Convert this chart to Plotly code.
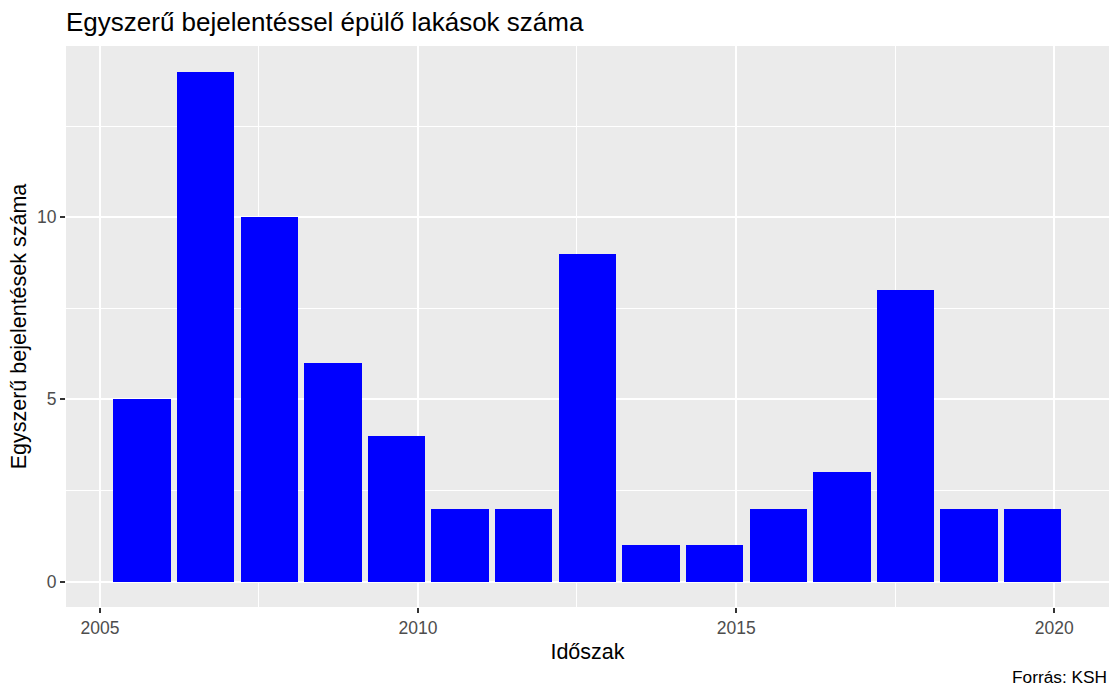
import plotly.graph_objects as go

# Simple-notification dwelling counts per period
periods = ["2005-08-30", "2006-08-30", "2007-08-30", "2008-08-30", "2009-08-30",
           "2010-08-30", "2011-08-30", "2012-08-30", "2013-08-30", "2014-08-30",
           "2015-08-30", "2016-08-30", "2017-08-30", "2018-08-30", "2019-08-30"]
counts = [5, 14, 10, 6, 4, 2, 2, 9, 1, 1, 2, 3, 8, 2, 2]

year_ms = 365.25 * 24 * 3600 * 1000
font_family = "Liberation Sans, Arial, sans-serif"

fig = go.Figure(
    go.Bar(
        x=periods,
        y=counts,
        width=[0.9 * year_ms] * len(periods),
        marker=dict(color="#0000FF", line=dict(width=0)),
        hoverinfo="x+y",
    )
)

axis_common = dict(
    showline=False,
    zeroline=False,
    gridcolor="#FFFFFF",
    gridwidth=2,
    ticks="outside",
    ticklen=5,
    tickwidth=1.5,
    tickcolor="#333333",
    tickfont=dict(family=font_family, size=17.5, color="#4D4D4D"),
    title_font=dict(family=font_family, size=21.5, color="#000000"),
)

fig.update_layout(
    width=1114,
    height=688,
    margin=dict(l=66, r=5, t=46, b=81),
    paper_bgcolor="#FFFFFF",
    plot_bgcolor="#EBEBEB",
    bargap=0,
    showlegend=False,
    title=dict(
        text="Egyszerű bejelentéssel épülő lakások száma",
        x=0, xanchor="left", xref="paper",
        y=1 - 22 / 688, yanchor="middle", yref="container",
        font=dict(family=font_family, size=26, color="#000000"),
    ),
    xaxis=dict(
        axis_common,
        type="date",
        range=["2004-06-20", "2020-11-10"],
        tick0="2005-01-01",
        dtick="M60",
        tickformat="%Y",
        minor=dict(dtick="M30", tick0="2005-01-01", gridcolor="#FFFFFF", gridwidth=1, ticks=""),
        title=dict(text="Időszak", standoff=6),
    ),
    yaxis=dict(
        axis_common,
        range=[-0.7, 14.7],
        tick0=0,
        dtick=5,
        minor=dict(dtick=2.5, gridcolor="#FFFFFF", gridwidth=1, ticks=""),
        title=dict(text="Egyszerű bejelentések száma", standoff=4),
    ),
    annotations=[
        dict(
            text="Forrás: KSH",
            xref="paper", yref="paper",
            x=1, y=-70 / 561,
            xanchor="right", yanchor="middle",
            showarrow=False,
            font=dict(family=font_family, size=17.3, color="#000000"),
        )
    ],
)

fig.write_html("out.html")
